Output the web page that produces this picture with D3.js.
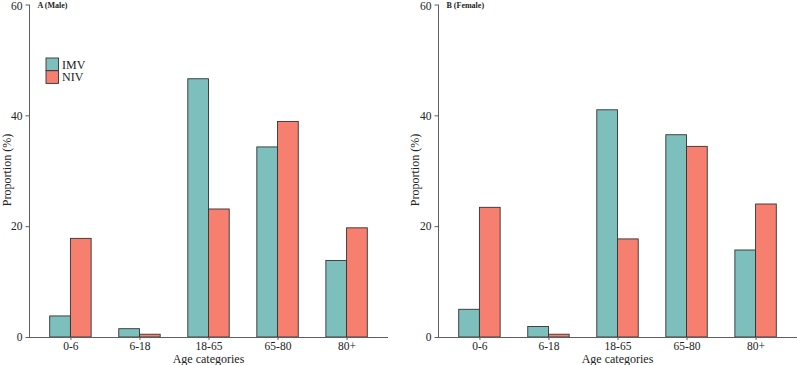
<!DOCTYPE html>
<html>
<head>
<meta charset="utf-8">
<script src="https://cdn.jsdelivr.net/npm/d3@7"></script>
<style>
  html, body { margin: 0; padding: 0; background: #fff; }
  svg { display: block; font-family: "Liberation Serif", "DejaVu Serif", serif; }
</style>
</head>
<body>
<div id="chart"></div>
<script>
(function () {
  var categories = ['0-6', '6-18', '18-65', '65-80', '80+'];
  var series = ['IMV', 'NIV'];
  var maleIMV = [3.8, 1.5, 46.6, 34.3, 13.8];
  var maleNIV = [17.8, 0.5, 23.1, 38.9, 19.7];
  var femaleIMV = [5.0, 1.9, 41.0, 36.5, 15.7];
  var femaleNIV = [23.4, 0.5, 17.7, 34.4, 24.0];
  var yTicks = [0, 20, 40, 60];

  var panels = [
    { title: 'A (Male)', values: [maleIMV, maleNIV], x0: 29, x1: 388, yLabelX: 10.7, legend: true },
    { title: 'B (Female)', values: [femaleIMV, femaleNIV], x0: 438, x1: 797, yLabelX: 418.5, legend: false }
  ];

  var colors = { IMV: '#7dbfbc', NIV: '#f67f70' };
  var axisColor = '#5e5e5e';
  var serif = '"Liberation Serif", "DejaVu Serif", serif';

  var width = 797;
  var height = 365;
  var yTop = 4.5;
  var yBottom = 337;

  var svg = d3.select('#chart')
    .append('svg')
    .attr('width', width)
    .attr('height', height);

  var y = d3.scaleLinear().domain([0, 60]).range([yBottom, yTop]);

  panels.forEach(function (p) {
    var g = svg.append('g');

    var x = d3.scalePoint().domain(categories).range([p.x0, p.x1]).padding(0.6);
    var step = x.step();
    var inner = d3.scaleBand().domain(series).range([-0.3 * step, 0.3 * step]);

    // bars
    series.forEach(function (s, si) {
      g.append('g').selectAll('rect')
        .data(p.values[si])
        .enter().append('rect')
        .attr('x', function (d, i) { return x(categories[i]) + inner(s); })
        .attr('y', function (d) { return y(d); })
        .attr('width', inner.bandwidth())
        .attr('height', function (d) { return y(0) - y(d); })
        .attr('fill', colors[s])
        .attr('stroke', '#333')
        .attr('stroke-width', 0.9);
    });

    // y axis
    var yAxis = g.append('g')
      .attr('transform', 'translate(' + p.x0 + ',0)')
      .call(d3.axisLeft(y).tickValues(yTicks).tickSize(3.5).tickPadding(3).tickFormat(d3.format('d')));
    yAxis.attr('font-family', serif).attr('font-size', 11.5);
    yAxis.select('.domain').attr('stroke', axisColor).attr('d', 'M0.5,' + yTop + 'V' + yBottom);
    yAxis.selectAll('.tick line').attr('stroke', axisColor);
    yAxis.selectAll('.tick text').attr('fill', '#222');
    yAxis.selectAll('.tick')
      .filter(function (d) { return d === 60; })
      .select('text')
      .attr('dy', '0.42em');

    // x axis
    var xAxis = g.append('g')
      .attr('transform', 'translate(0,' + yBottom + ')')
      .call(d3.axisBottom(x).tickSize(3).tickPadding(2));
    xAxis.attr('font-family', serif).attr('font-size', 11.5);
    xAxis.select('.domain').attr('stroke', axisColor).attr('d', 'M' + p.x0 + ',0.5H' + p.x1);
    xAxis.selectAll('.tick line').attr('stroke', axisColor);
    xAxis.selectAll('.tick text').attr('fill', '#222');

    // axis titles
    g.append('text')
      .attr('x', (p.x0 + p.x1) / 2)
      .attr('y', 362.5)
      .attr('text-anchor', 'middle')
      .attr('font-size', 12)
      .attr('fill', '#222')
      .text('Age categories');

    g.append('text')
      .attr('transform', 'translate(' + p.yLabelX + ',170) rotate(-90)')
      .attr('text-anchor', 'middle')
      .attr('font-size', 12)
      .attr('fill', '#222')
      .text('Proportion (%)');

    // panel title
    g.append('text')
      .attr('x', p.x0 + 8.5)
      .attr('y', 8)
      .attr('font-size', 8)
      .attr('font-weight', 'bold')
      .attr('fill', '#222')
      .text(p.title);

    if (p.legend) {
      var lg = g.append('g').attr('transform', 'translate(46,58)');
      series.forEach(function (s, i) {
        lg.append('rect')
          .attr('x', 0)
          .attr('y', i * 12.7)
          .attr('width', 12.5)
          .attr('height', 12.7)
          .attr('fill', colors[s])
          .attr('stroke', '#333')
          .attr('stroke-width', 0.9);
        lg.append('text')
          .attr('x', 16)
          .attr('y', i * 12.7 + 6.35)
          .attr('dy', '0.35em')
          .attr('font-size', 12)
          .attr('fill', '#222')
          .text(s);
      });
    }
  });
})();
</script>
</body>
</html>
